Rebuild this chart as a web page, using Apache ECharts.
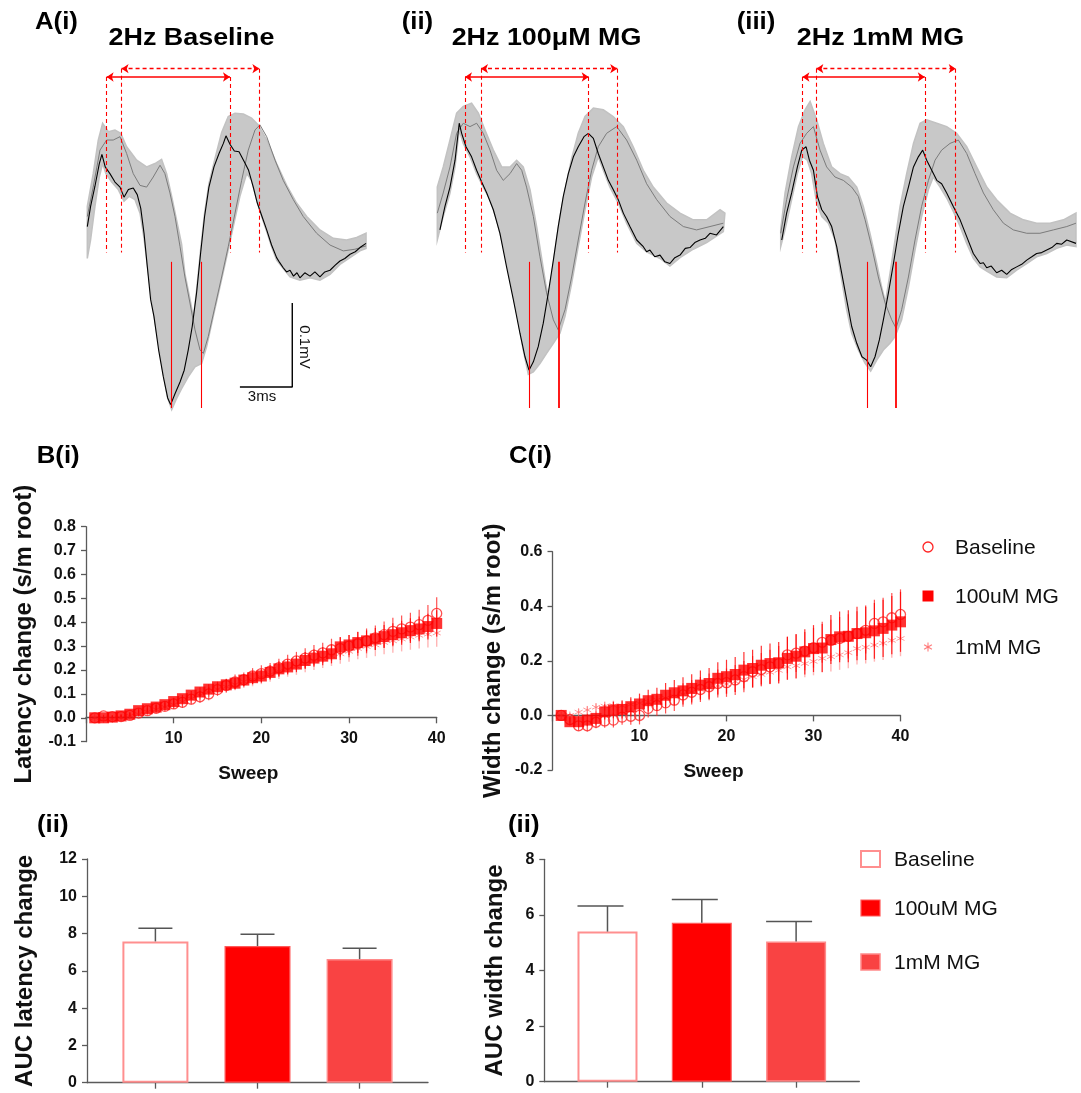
<!DOCTYPE html>
<html>
<head>
<meta charset="utf-8">
<script src="https://cdn.jsdelivr.net/npm/echarts@6/dist/echarts.min.js"></script>
<style>
  html, body { margin: 0; padding: 0; background: #fff; }
  #chart { width: 1081px; height: 1093px; }
</style>
</head>
<body>
<div id="chart"></div>
<script>
// ---------- Panel A: superimposed CAP sweeps (time in ms, amplitude in µV) ----------
// first sweep (black), last sweep (dark grey), envelope of all sweeps (light grey band)
const baselineFirstSweep = [[0,16],[0.19,40],[0.44,64],[0.69,91],[0.84,102],[1.03,87],[1.30,79],[1.59,69],[1.88,63],[2.11,51],[2.36,60],[2.64,62],[2.87,54],[3.07,38],[3.26,8],[3.45,-32],[3.64,-71],[3.83,-91],[4.10,-131],[4.37,-163],[4.62,-188],[4.79,-196],[5.04,-183],[5.33,-169],[5.57,-155],[5.80,-131],[6.03,-103],[6.28,-63],[6.51,-16],[6.74,28],[6.99,63],[7.28,87],[7.57,103],[7.82,115],[7.97,124],[8.20,114],[8.45,106],[8.72,105],[9.00,94],[9.27,83],[9.54,63],[9.77,44],[10.04,28],[10.31,12],[10.59,-6],[10.88,-21],[11.06,-27],[11.26,-33],[11.45,-38],[11.65,-36],[11.85,-43],[12.05,-39],[12.22,-45],[12.50,-39],[12.80,-43],[13.08,-38],[13.37,-44],[13.65,-38],[13.95,-36],[14.25,-30],[14.52,-25],[14.80,-22],[15.10,-17],[15.40,-14],[15.67,-9],[16.02,-4]];
const baselineLastSweep = [[0,28],[0.34,63],[0.73,107],[1.11,119],[1.49,119],[1.88,123],[2.26,103],[2.64,79],[3.03,65],[3.41,63],[3.79,75],[4.18,89],[4.46,79],[4.75,56],[5.04,28],[5.33,-8],[5.61,-44],[5.90,-75],[6.19,-107],[6.48,-131],[6.67,-135],[6.95,-115],[7.34,-79],[7.72,-44],[8.10,-8],[8.49,32],[8.87,71],[9.25,107],[9.64,131],[9.92,137],[10.31,123],[10.79,95],[11.26,71],[11.84,48],[12.41,28],[13.18,8],[13.95,-6],[14.71,-13],[15.38,-11],[16.02,-7]];
const baselineEnvelopeTop = [[0,40],[0.34,79],[0.63,119],[0.88,139],[1.21,129],[1.59,131],[1.92,127],[2.26,111],[2.84,95],[3.41,87],[3.89,91],[4.27,96],[4.56,79],[4.85,52],[5.13,24],[5.42,-5],[5.61,-40],[5.90,-70],[6.10,-93],[6.28,-60],[6.51,-12],[6.74,32],[6.99,67],[7.34,97],[7.72,128],[8.10,147],[8.49,151],[8.97,150],[9.44,145],[9.83,137],[10.31,119],[10.88,91],[11.46,65],[12.03,44],[12.61,28],[13.37,12],[14.14,2],[14.90,0],[15.48,3],[16.02,8]];
const baselineEnvelopeBottom = [[0,-22],[0.19,0],[0.44,40],[0.69,75],[0.88,91],[1.07,79],[1.40,69],[1.78,60],[2.11,46],[2.41,52],[2.74,48],[3.03,32],[3.26,2],[3.51,-40],[3.75,-79],[4.02,-115],[4.33,-155],[4.60,-187],[4.85,-202],[5.10,-190],[5.42,-177],[5.80,-163],[6.19,-151],[6.57,-147],[6.86,-127],[7.24,-91],[7.62,-56],[8.01,-20],[8.39,16],[8.77,52],[9.16,79],[9.44,71],[9.73,48],[10.02,28],[10.31,10],[10.59,-8],[10.88,-24],[11.26,-34],[11.65,-44],[12.22,-48],[12.80,-45],[13.37,-48],[13.95,-41],[14.52,-29],[15.10,-21],[15.67,-13],[16.02,-10]];

const mg100FirstSweep = [[0.15,12],[0.44,40],[0.73,63],[1.02,95],[1.26,139],[1.40,127],[1.65,111],[1.97,99],[2.26,83],[2.55,69],[2.84,56],[3.22,36],[3.60,8],[3.98,-32],[4.37,-71],[4.75,-111],[5.04,-139],[5.27,-155],[5.52,-145],[5.80,-127],[6.09,-99],[6.38,-63],[6.67,-24],[6.95,16],[7.24,52],[7.53,79],[7.82,99],[8.10,111],[8.43,123],[8.68,127],[8.97,121],[9.25,103],[9.54,87],[9.83,71],[10.11,60],[10.40,48],[10.69,32],[11.07,16],[11.46,0],[11.84,-8],[12.03,-14],[12.22,-12],[12.50,-20],[12.80,-18],[13.08,-26],[13.37,-28],[13.65,-21],[13.95,-18],[14.25,-10],[14.52,-9],[14.80,-3],[15.10,0],[15.40,2],[15.67,8],[16.05,6],[16.44,16]];
const mg100LastSweep = [[0,32],[0.34,56],[0.73,87],[1.11,127],[1.49,139],[1.88,135],[2.26,139],[2.64,127],[3.03,107],[3.41,83],[3.79,71],[4.18,79],[4.56,91],[4.85,83],[5.13,63],[5.52,28],[5.90,-20],[6.28,-63],[6.67,-95],[6.95,-107],[7.34,-83],[7.72,-44],[8.10,0],[8.49,44],[8.87,83],[9.25,111],[9.73,127],[10.31,135],[10.88,119],[11.46,95],[12.03,67],[12.61,48],[13.37,28],[14.14,16],[14.90,12],[15.67,16],[16.44,20]];
const mg100EnvelopeTop = [[0,63],[0.34,87],[0.73,119],[1.11,151],[1.49,159],[1.97,163],[2.36,151],[2.74,131],[3.22,107],[3.70,87],[4.18,87],[4.56,95],[4.94,87],[5.33,60],[5.71,16],[6.00,-22],[6.23,-52],[6.38,-68],[6.55,-45],[6.82,-4],[7.05,28],[7.34,60],[7.72,97],[8.10,127],[8.49,147],[8.97,157],[9.54,155],[10.11,147],[10.69,135],[11.26,111],[11.84,83],[12.41,63],[13.18,44],[13.95,32],[14.71,24],[15.48,24],[16.25,36],[16.53,32]];
const mg100EnvelopeBottom = [[0,0],[0.34,28],[0.73,56],[1.02,87],[1.26,131],[1.49,115],[1.88,99],[2.26,79],[2.64,63],[3.03,48],[3.41,24],[3.79,-8],[4.18,-48],[4.56,-87],[4.94,-131],[5.23,-160],[5.52,-157],[5.90,-147],[6.28,-135],[6.67,-123],[7.05,-111],[7.34,-91],[7.72,-52],[8.10,-8],[8.49,36],[8.87,75],[9.25,99],[9.54,83],[9.92,63],[10.40,44],[10.88,20],[11.46,-4],[12.03,-14],[12.80,-22],[13.37,-31],[13.95,-21],[14.71,-11],[15.48,-3],[16.44,10]];

const mg1FirstSweep = [[0.06,0],[0.34,32],[0.63,56],[0.96,87],[1.21,107],[1.46,111],[1.65,95],[1.88,83],[2.11,52],[2.36,36],[2.64,28],[2.93,16],[3.22,-8],[3.51,-40],[3.79,-71],[4.08,-103],[4.37,-123],[4.67,-139],[4.94,-143],[5.17,-151],[5.42,-139],[5.67,-119],[5.90,-95],[6.19,-63],[6.48,-28],[6.76,8],[7.05,40],[7.34,63],[7.63,87],[7.91,99],[8.16,107],[8.39,95],[8.68,83],[8.97,71],[9.25,67],[9.54,56],[9.92,40],[10.31,24],[10.69,4],[11.07,-16],[11.46,-28],[11.65,-27],[11.84,-33],[12.10,-31],[12.41,-39],[12.70,-36],[12.99,-41],[13.28,-35],[13.56,-32],[13.85,-29],[14.14,-24],[14.43,-20],[14.71,-16],[15.00,-15],[15.29,-12],[15.58,-9],[15.86,-4],[16.15,-5],[16.44,0],[16.97,-4]];
const mg1LastSweep = [[0,8],[0.34,48],[0.73,87],[1.11,115],[1.49,127],[1.88,135],[2.26,107],[2.64,87],[3.12,75],[3.60,71],[4.08,63],[4.46,52],[4.85,24],[5.23,-8],[5.61,-44],[6.00,-75],[6.38,-95],[6.63,-105],[6.95,-83],[7.34,-44],[7.72,0],[8.10,40],[8.49,71],[8.87,95],[9.25,107],[9.73,115],[10.21,119],[10.69,103],[11.17,79],[11.65,56],[12.22,36],[12.80,20],[13.37,12],[14.14,8],[14.90,8],[15.67,12],[16.44,16],[16.97,20]];
const mg1EnvelopeTop = [[0,12],[0.25,56],[0.63,99],[1.02,135],[1.40,155],[1.69,165],[2.07,143],[2.45,115],[2.93,87],[3.41,79],[3.89,75],[4.37,63],[4.75,40],[5.13,8],[5.52,-28],[5.80,-56],[6.02,-74],[6.28,-40],[6.57,0],[6.86,40],[7.24,79],[7.63,115],[8.01,139],[8.39,143],[8.97,139],[9.54,135],[10.11,127],[10.69,111],[11.26,87],[11.84,63],[12.41,48],[13.18,32],[13.95,24],[14.71,20],[15.48,20],[16.25,24],[16.97,32]];
const mg1EnvelopeBottom = [[0,-8],[0.25,12],[0.63,48],[0.96,79],[1.26,99],[1.53,95],[1.78,79],[2.07,44],[2.36,28],[2.74,20],[3.12,0],[3.51,-48],[3.79,-83],[4.08,-111],[4.46,-131],[4.85,-147],[5.17,-156],[5.52,-143],[5.90,-131],[6.28,-123],[6.57,-115],[6.95,-95],[7.34,-56],[7.72,-12],[8.10,28],[8.49,60],[8.77,75],[9.16,63],[9.54,50],[9.92,34],[10.31,16],[10.69,-4],[11.07,-22],[11.46,-32],[11.84,-37],[12.41,-44],[12.99,-45],[13.56,-36],[14.14,-28],[14.71,-20],[15.29,-16],[15.86,-10],[16.44,-6],[16.97,-8]];

// peak latencies (first sweep / last sweep, ms) and trough latencies (ms)
const baselinePeaks = [1.11, 1.97, 8.20, 9.89];
const baselineTroughs = [4.85, 6.57];
const mg100Peaks = [1.59, 2.51, 8.70, 10.34];
const mg100Troughs = [5.29, 6.99];
const mg1Peaks = [1.25, 2.05, 8.28, 10.06];
const mg1Troughs = [4.96, 6.61];

// scale bar: 3 ms by 100 µV
const scaleBar = [[8.77,-175],[11.78,-175],[11.78,-75]];

// ---------- Panels B(i) / C(i): change per sweep (mean ± SEM) ----------
const sweeps = [1,2,3,4,5,6,7,8,9,10,11,12,13,14,15,16,17,18,19,20,21,22,23,24,25,26,27,28,29,30,31,32,33,34,35,36,37,38,39,40];

const latencyBaseline = [0.000,0.008,0.005,0.005,0.010,0.020,0.030,0.040,0.048,0.058,0.065,0.078,0.088,0.100,0.118,0.135,0.150,0.160,0.175,0.185,0.195,0.210,0.225,0.238,0.250,0.262,0.272,0.285,0.290,0.300,0.310,0.322,0.335,0.348,0.362,0.372,0.380,0.390,0.408,0.437];
const latency100 = [0.000,0.000,0.003,0.008,0.015,0.030,0.038,0.045,0.055,0.068,0.080,0.095,0.108,0.120,0.130,0.138,0.145,0.158,0.168,0.175,0.190,0.205,0.213,0.225,0.240,0.250,0.258,0.268,0.297,0.305,0.315,0.322,0.330,0.340,0.348,0.356,0.365,0.372,0.382,0.395];
const latency1mM = [0.000,-0.005,-0.005,0.000,0.008,0.015,0.025,0.035,0.045,0.055,0.068,0.080,0.095,0.108,0.120,0.130,0.140,0.152,0.160,0.170,0.182,0.195,0.205,0.215,0.228,0.238,0.248,0.258,0.268,0.278,0.290,0.298,0.305,0.315,0.322,0.330,0.338,0.345,0.350,0.355];
const latencySemBaseline = [0,0.005,0.007,0.008,0.010,0.012,0.013,0.015,0.017,0.021,0.023,0.022,0.025,0.027,0.026,0.029,0.031,0.030,0.033,0.035,0.034,0.037,0.039,0.038,0.041,0.043,0.042,0.046,0.048,0.047,0.050,0.052,0.051,0.055,0.057,0.056,0.060,0.062,0.064,0.068];
const latencySem100 = [0,0.004,0.005,0.006,0.008,0.009,0.011,0.012,0.013,0.016,0.016,0.017,0.020,0.020,0.021,0.024,0.024,0.025,0.028,0.028,0.030,0.032,0.032,0.034,0.036,0.036,0.038,0.040,0.040,0.042,0.044,0.044,0.046,0.048,0.048,0.050,0.052,0.052,0.054,0.055];
const latencySem1mM = [0,0.004,0.006,0.007,0.008,0.010,0.011,0.013,0.014,0.015,0.017,0.019,0.019,0.021,0.023,0.024,0.025,0.027,0.028,0.029,0.031,0.033,0.033,0.035,0.037,0.038,0.039,0.041,0.042,0.043,0.045,0.047,0.047,0.049,0.050,0.052,0.053,0.055,0.056,0.058];

const widthBaseline = [0.000,-0.015,-0.038,-0.038,-0.025,-0.020,-0.017,-0.006,-0.003,0.000,0.026,0.036,0.046,0.056,0.075,0.085,0.095,0.105,0.117,0.120,0.130,0.142,0.160,0.168,0.178,0.190,0.222,0.228,0.236,0.248,0.268,0.275,0.282,0.290,0.300,0.312,0.337,0.343,0.358,0.370];
const width100 = [0.000,-0.023,-0.023,-0.017,-0.011,0.013,0.020,0.022,0.032,0.042,0.054,0.059,0.074,0.083,0.090,0.099,0.111,0.117,0.136,0.142,0.150,0.166,0.172,0.184,0.190,0.193,0.209,0.217,0.233,0.245,0.247,0.278,0.288,0.290,0.300,0.303,0.310,0.319,0.331,0.343];
const width1mM = [0.000,0.000,0.012,0.020,0.030,0.034,0.036,0.035,0.040,0.045,0.050,0.057,0.064,0.070,0.078,0.086,0.094,0.100,0.108,0.115,0.124,0.132,0.142,0.150,0.158,0.165,0.178,0.182,0.190,0.198,0.209,0.215,0.222,0.230,0.245,0.250,0.258,0.265,0.275,0.282];
const widthSemBaseline = [0,0.012,0.018,0.021,0.022,0.025,0.027,0.028,0.031,0.033,0.034,0.037,0.039,0.040,0.043,0.045,0.046,0.049,0.051,0.052,0.055,0.057,0.058,0.061,0.063,0.064,0.067,0.069,0.070,0.073,0.075,0.076,0.079,0.081,0.082,0.085,0.087,0.088,0.091,0.092];
const widthSem100 = [0,0.014,0.020,0.023,0.026,0.028,0.030,0.033,0.035,0.038,0.040,0.042,0.045,0.047,0.050,0.052,0.054,0.057,0.059,0.062,0.064,0.066,0.069,0.071,0.074,0.076,0.078,0.081,0.083,0.086,0.088,0.090,0.093,0.095,0.098,0.100,0.102,0.105,0.107,0.110];
const widthSem1mM = [0,0.010,0.012,0.014,0.015,0.017,0.018,0.020,0.021,0.023,0.024,0.025,0.027,0.028,0.030,0.031,0.033,0.034,0.035,0.037,0.038,0.040,0.041,0.043,0.044,0.045,0.047,0.048,0.050,0.051,0.052,0.054,0.055,0.057,0.058,0.060,0.061,0.062,0.064,0.065];

// ---------- Panels B(ii) / C(ii): area under curve (mean + SEM) ----------
const groups = ['Baseline', '100uM MG', '1mM MG'];
const aucLatency = [7.58, 7.33, 6.63];
const aucLatencySem = [0.70, 0.63, 0.58];
const aucWidth = [5.40, 5.72, 5.04];
const aucWidthSem = [0.92, 0.83, 0.72];

// ---------- styling ----------
const FONT = '"Liberation Sans", Arial, Helvetica, sans-serif';
const AXIS_GREY = '#5a5a5a';
const RED = '#ff0000';

const chart = echarts.init(document.getElementById('chart'), null, { renderer: 'canvas', width: 1081, height: 1093 });

// trace panels share one scale: 17.4 px per ms, 0.84 px per µV, 0 µV at y = 240
const MS_PX = 17.4, UV_PX = 0.84, ZERO_Y = 240, T_MAX = 17, V_LIM = 210;
const tracePanels = [
  { left: 87.3,  first: baselineFirstSweep, last: baselineLastSweep, top: baselineEnvelopeTop, bottom: baselineEnvelopeBottom, peaks: baselinePeaks, troughs: baselineTroughs },
  { left: 437.3, first: mg100FirstSweep,   last: mg100LastSweep,   top: mg100EnvelopeTop,   bottom: mg100EnvelopeBottom,   peaks: mg100Peaks,   troughs: mg100Troughs },
  { left: 780.7, first: mg1FirstSweep,     last: mg1LastSweep,     top: mg1EnvelopeTop,     bottom: mg1EnvelopeBottom,     peaks: mg1Peaks,     troughs: mg1Troughs }
];

const grids = [], xAxes = [], yAxes = [], series = [];

tracePanels.forEach((p, i) => {
  grids.push({ left: p.left, top: ZERO_Y - V_LIM * UV_PX, width: T_MAX * MS_PX, height: 2 * V_LIM * UV_PX });
  xAxes.push({ type: 'value', gridIndex: i, min: 0, max: T_MAX, show: false });
  yAxes.push({ type: 'value', gridIndex: i, min: -V_LIM, max: V_LIM, show: false });

  // grey band covering every sweep
  series.push({
    type: 'custom', xAxisIndex: i, yAxisIndex: i, silent: true, z: 1,
    data: [[0, 0]],
    renderItem: (params, api) => {
      const pts = p.top.map(d => api.coord(d)).concat(p.bottom.slice().reverse().map(d => api.coord(d)));
      return { type: 'polygon', shape: { points: pts }, style: { fill: '#c8c8c8', stroke: '#c2c2c2', lineWidth: 1.5 } };
    }
  });
  // last sweep
  series.push({
    type: 'line', xAxisIndex: i, yAxisIndex: i, data: p.last, showSymbol: false, silent: true, z: 2,
    lineStyle: { color: '#7b7b7b', width: 1 }
  });

  const dash = [4, 3];
  const top1 = 194, top2 = 204, dashBottom = -15, troughTop = -26, troughBottom = -200;
  const marks = [
    [{ coord: [p.peaks[0], top1], symbol: 'none', lineStyle: { type: dash, width: 1.1 } }, { coord: [p.peaks[0], dashBottom], symbol: 'none' }],
    [{ coord: [p.peaks[2], top1], symbol: 'none', lineStyle: { type: dash, width: 1.1 } }, { coord: [p.peaks[2], dashBottom], symbol: 'none' }],
    [{ coord: [p.peaks[1], top2], symbol: 'none', lineStyle: { type: dash, width: 1.1 } }, { coord: [p.peaks[1], dashBottom], symbol: 'none' }],
    [{ coord: [p.peaks[3], top2], symbol: 'none', lineStyle: { type: dash, width: 1.1 } }, { coord: [p.peaks[3], dashBottom], symbol: 'none' }],
    [{ coord: [p.peaks[0], top1], symbol: 'arrow', lineStyle: { type: 'solid', width: 1.6 } }, { coord: [p.peaks[2], top1], symbol: 'arrow' }],
    [{ coord: [p.peaks[1], top2], symbol: 'arrow', lineStyle: { type: dash, width: 1.4 } }, { coord: [p.peaks[3], top2], symbol: 'arrow' }],
    [{ coord: [p.troughs[0], troughTop], symbol: 'none', lineStyle: { type: 'solid', width: 1.1 } }, { coord: [p.troughs[0], troughBottom], symbol: 'none' }],
    [{ coord: [p.troughs[1], troughTop], symbol: 'none', lineStyle: { type: 'solid', width: i === 0 ? 1.1 : 1.8 } }, { coord: [p.troughs[1], troughBottom], symbol: 'none' }]
  ];
  // first sweep, with latency / width markers
  series.push({
    type: 'line', xAxisIndex: i, yAxisIndex: i, data: p.first, showSymbol: false, silent: true, z: 3,
    lineStyle: { color: '#000', width: 1.1 },
    markLine: {
      silent: true, animation: false, symbolSize: 7, precision: 4,
      label: { show: false },
      lineStyle: { color: RED },
      emphasis: { disabled: true },
      data: marks
    }
  });
});

// scale bar in the first trace panel
series.push({
  type: 'line', xAxisIndex: 0, yAxisIndex: 0, data: scaleBar, showSymbol: false, silent: true, z: 4,
  lineStyle: { color: '#000', width: 1.4 }
});

// ---------- sweep plots ----------
const tickLabel = { fontFamily: FONT, fontSize: 16, fontWeight: 'bold', color: '#111' };
const axisNameStyle = { fontFamily: FONT, fontSize: 24, fontWeight: 'bold', color: '#111' };

// the x axis sits on the zero line: it is lifted from the grid bottom by `lift` px
function sweepAxes(gi, yMin, yMax, yStep, yName, nameGap, lift) {
  xAxes.push({
    type: 'value', gridIndex: gi, min: 0, max: 40, interval: 10, offset: -lift,
    axisLine: { show: true, onZero: false, lineStyle: { color: AXIS_GREY, width: 1.3 } },
    axisTick: { show: true, length: 6, lineStyle: { color: AXIS_GREY, width: 1.3 } },
    axisLabel: Object.assign({ margin: 13, formatter: v => (v === 0 ? '' : String(v)) }, tickLabel),
    splitLine: { show: false },
    name: 'Sweep', nameLocation: 'middle', nameGap: 47,
    nameTextStyle: { fontFamily: FONT, fontSize: 19, fontWeight: 'bold', color: '#111', padding: [0, 26, 0, 0] }
  });
  yAxes.push({
    type: 'value', gridIndex: gi, min: yMin, max: yMax, interval: yStep,
    axisLine: { show: true, onZero: false, lineStyle: { color: AXIS_GREY, width: 1.3 } },
    axisTick: { show: true, length: 5, lineStyle: { color: AXIS_GREY, width: 1.3 } },
    axisLabel: Object.assign({ margin: 10, formatter: v => v.toFixed(1) }, tickLabel),
    splitLine: { show: false },
    name: yName, nameLocation: 'middle', nameGap: nameGap, nameRotate: 90,
    nameTextStyle: axisNameStyle
  });
}

function errorSeries(gi, mean, sem, color, width, z) {
  return {
    type: 'custom', xAxisIndex: gi, yAxisIndex: gi, silent: true, z: z,
    data: sweeps.map((s, k) => [s, mean[k] - sem[k], mean[k] + sem[k]]),
    encode: { x: 0, y: [1, 2] },
    renderItem: (params, api) => {
      const a = api.coord([api.value(0), api.value(1)]);
      const b = api.coord([api.value(0), api.value(2)]);
      return { type: 'line', shape: { x1: a[0], y1: a[1], x2: b[0], y2: b[1] }, style: { stroke: color, lineWidth: width } };
    }
  };
}

const ASTERISK = 'path://M10,0L10,20M1.34,5L18.66,15M1.34,15L18.66,5';
const circleStyle = { color: 'rgba(255,255,255,0)', borderColor: '#ff2424', borderWidth: 1.3 };
const starStyle = { color: 'none', borderColor: 'rgba(255,110,110,0.85)', borderWidth: 1 };

function sweepSeries(gi, base, m100, m1, semBase, sem100, sem1) {
  series.push(errorSeries(gi, m1, sem1, 'rgba(255,120,120,0.55)', 1.4, 5));
  series.push({ type: 'scatter', name: '1mM MG', xAxisIndex: gi, yAxisIndex: gi, z: 6, silent: true,
    data: sweeps.map((s, k) => [s, m1[k]]), symbol: ASTERISK, symbolSize: 8, itemStyle: starStyle });
  series.push(errorSeries(gi, base, semBase, 'rgba(255,40,40,0.8)', 1.2, 7));
  series.push({ type: 'scatter', name: 'Baseline', xAxisIndex: gi, yAxisIndex: gi, z: 8, silent: true,
    data: sweeps.map((s, k) => [s, base[k]]), symbol: 'circle', symbolSize: 10, itemStyle: circleStyle });
  series.push(errorSeries(gi, m100, sem100, 'rgba(255,0,0,0.8)', 1.2, 9));
  series.push({ type: 'scatter', name: '100uM MG', xAxisIndex: gi, yAxisIndex: gi, z: 10, silent: true,
    data: sweeps.map((s, k) => [s, m100[k]]), symbol: 'rect', symbolSize: 11, itemStyle: { color: RED } });
}

// B(i)
grids.push({ left: 86, top: 526.7, width: 350.7, height: 215 });
sweepAxes(3, -0.1, 0.8, 0.1, 'Latency change (s/m root)', 50, 24.4);
sweepSeries(3, latencyBaseline, latency100, latency1mM, latencySemBaseline, latencySem100, latencySem1mM);

// C(i)
grids.push({ left: 552.5, top: 551.7, width: 348, height: 218.3 });
sweepAxes(4, -0.2, 0.6, 0.2, 'Width change (s/m root)', 47, 54.6);
sweepSeries(4, widthBaseline, width100, width1mM, widthSemBaseline, widthSem100, widthSem1mM);

// ---------- AUC bar plots ----------
const barStyles = [
  { color: '#ffffff', borderColor: '#ff8f8f', borderWidth: 2 },
  { color: '#ff0000', borderColor: '#ff5a5a', borderWidth: 1.2 },
  { color: '#f94343', borderColor: '#ff8a8a', borderWidth: 1.5 }
];

function barAxes(gi, yMax, yName, nameGap) {
  xAxes.push({
    type: 'value', gridIndex: gi, min: -0.67, max: 2.67,
    axisLine: { show: true, onZero: false, lineStyle: { color: AXIS_GREY, width: 1.3 } },
    axisTick: { show: true, length: 6, customValues: [0, 1, 2], lineStyle: { color: AXIS_GREY, width: 1.3 } },
    axisLabel: { show: false },
    splitLine: { show: false }
  });
  yAxes.push({
    type: 'value', gridIndex: gi, min: 0, max: yMax, interval: 2,
    axisLine: { show: true, onZero: false, lineStyle: { color: AXIS_GREY, width: 1.3 } },
    axisTick: { show: true, length: 5, lineStyle: { color: AXIS_GREY, width: 1.3 } },
    axisLabel: Object.assign({ margin: 10 }, tickLabel),
    splitLine: { show: false },
    name: yName, nameLocation: 'middle', nameGap: nameGap, nameRotate: 90,
    nameTextStyle: axisNameStyle
  });
}

function barSeries(gi, values, sems, barWidth, capLeft, capRight) {
  groups.forEach((g, k) => {
    series.push({
      type: 'bar', name: g, xAxisIndex: gi, yAxisIndex: gi, silent: true, z: 2,
      barWidth: barWidth, barGap: '-100%',
      data: [[k, values[k]]], itemStyle: barStyles[k]
    });
  });
  series.push({
    type: 'custom', xAxisIndex: gi, yAxisIndex: gi, silent: true, z: 3,
    data: groups.map((g, k) => [k, values[k], values[k] + sems[k]]),
    encode: { x: 0, y: [1, 2] },
    renderItem: (params, api) => {
      const a = api.coord([api.value(0), api.value(1)]);
      const b = api.coord([api.value(0), api.value(2)]);
      const st = { stroke: '#555', lineWidth: 1.5 };
      return { type: 'group', children: [
        { type: 'line', shape: { x1: a[0], y1: a[1], x2: b[0], y2: b[1] }, style: st },
        { type: 'line', shape: { x1: b[0] - capLeft, y1: b[1], x2: b[0] + capRight, y2: b[1] }, style: st }
      ] };
    }
  });
}

// B(ii)
grids.push({ left: 87, top: 859, width: 341, height: 223.7 });
barAxes(5, 12, 'AUC latency change', 50);
barSeries(5, aucLatency, aucLatencySem, 66, 17, 17);

// C(ii)
grids.push({ left: 544.3, top: 859.3, width: 315, height: 222.4 });
barAxes(6, 8, 'AUC width change', 37);
barSeries(6, aucWidth, aucWidthSem, 60, 30, 16);

// ---------- text and keys ----------
function label(text, x, y, size, opts) {
  return Object.assign({
    type: 'text', x: x, y: y, silent: true, z: 20,
    style: { text: text, font: 'bold ' + size + 'px ' + FONT, fill: '#000', align: 'left', verticalAlign: 'middle' }
  }, opts || {});
}
const titleOpts = { scaleX: 1.12 };
function title(text, cx, cy) {
  const t = label(text, cx, cy, 24, titleOpts);
  t.style.align = 'center';
  return t;
}
function keyText(text, x, y) {
  return { type: 'text', x: x, y: y, silent: true, z: 20,
    style: { text: text, font: '21px ' + FONT, fill: '#111', align: 'left', verticalAlign: 'middle' } };
}
// asterisk key mark made of three strokes
function asteriskKey(cx, cy, r, color) {
  const dx = r * 0.866, dy = r * 0.5;
  const st = { stroke: color, lineWidth: 1.1 };
  return { type: 'group', silent: true, z: 20, children: [
    { type: 'line', shape: { x1: cx, y1: cy - r, x2: cx, y2: cy + r }, style: st },
    { type: 'line', shape: { x1: cx - dx, y1: cy - dy, x2: cx + dx, y2: cy + dy }, style: st },
    { type: 'line', shape: { x1: cx - dx, y1: cy + dy, x2: cx + dx, y2: cy - dy }, style: st }
  ] };
}

const graphics = [
  label('A(i)', 35, 23, 23, titleOpts),
  title('2Hz Baseline', 191.5, 38),
  label('(ii)', 401.7, 23, 23, titleOpts),
  title('2Hz 100μM MG', 546.5, 38),
  label('(iii)', 736.7, 23, 23, titleOpts),
  title('2Hz 1mM MG', 880.5, 38),
  label('B(i)', 36.7, 456.7, 23, titleOpts),
  label('C(i)', 509, 456.7, 23, titleOpts),
  label('(ii)', 37, 826, 23, titleOpts),
  label('(ii)', 508, 826, 23, titleOpts),
  { type: 'text', x: 262, y: 397, silent: true, z: 20,
    style: { text: '3ms', font: '15px ' + FONT, fill: '#111', align: 'center', verticalAlign: 'middle' } },
  { type: 'text', x: 304, y: 347, rotation: -Math.PI / 2, silent: true, z: 20,
    style: { text: '0.1mV', font: '15px ' + FONT, fill: '#111', align: 'center', verticalAlign: 'middle' } },

  // key for the sweep plots
  { type: 'circle', silent: true, z: 20, shape: { cx: 928, cy: 547, r: 5 }, style: { fill: '#fff', stroke: '#ff2424', lineWidth: 1.3 } },
  keyText(groups[0], 955, 548),
  { type: 'rect', silent: true, z: 20, shape: { x: 922.5, y: 590.5, width: 11, height: 11 }, style: { fill: RED } },
  keyText(groups[1], 955, 597),
  asteriskKey(928, 647, 4.5, 'rgba(255,110,110,0.9)'),
  keyText(groups[2], 955, 648),

  // key for the bar plots
  { type: 'rect', silent: true, z: 20, shape: { x: 861, y: 851, width: 19, height: 16 }, style: { fill: '#fff', stroke: '#ff8f8f', lineWidth: 2 } },
  keyText(groups[0], 894, 860),
  { type: 'rect', silent: true, z: 20, shape: { x: 861, y: 900, width: 19, height: 16 }, style: { fill: '#ff0000', stroke: '#ff5a5a', lineWidth: 1.2 } },
  keyText(groups[1], 894, 909),
  { type: 'rect', silent: true, z: 20, shape: { x: 861, y: 954, width: 19, height: 16 }, style: { fill: '#f94343', stroke: '#ff8a8a', lineWidth: 1.5 } },
  keyText(groups[2], 894, 963)
];

const option = {
  animation: false,
  backgroundColor: '#ffffff',
  textStyle: { fontFamily: FONT },
  grid: grids,
  xAxis: xAxes,
  yAxis: yAxes,
  graphic: graphics,
  series: series
};

chart.setOption(option);
</script>
</body>
</html>
